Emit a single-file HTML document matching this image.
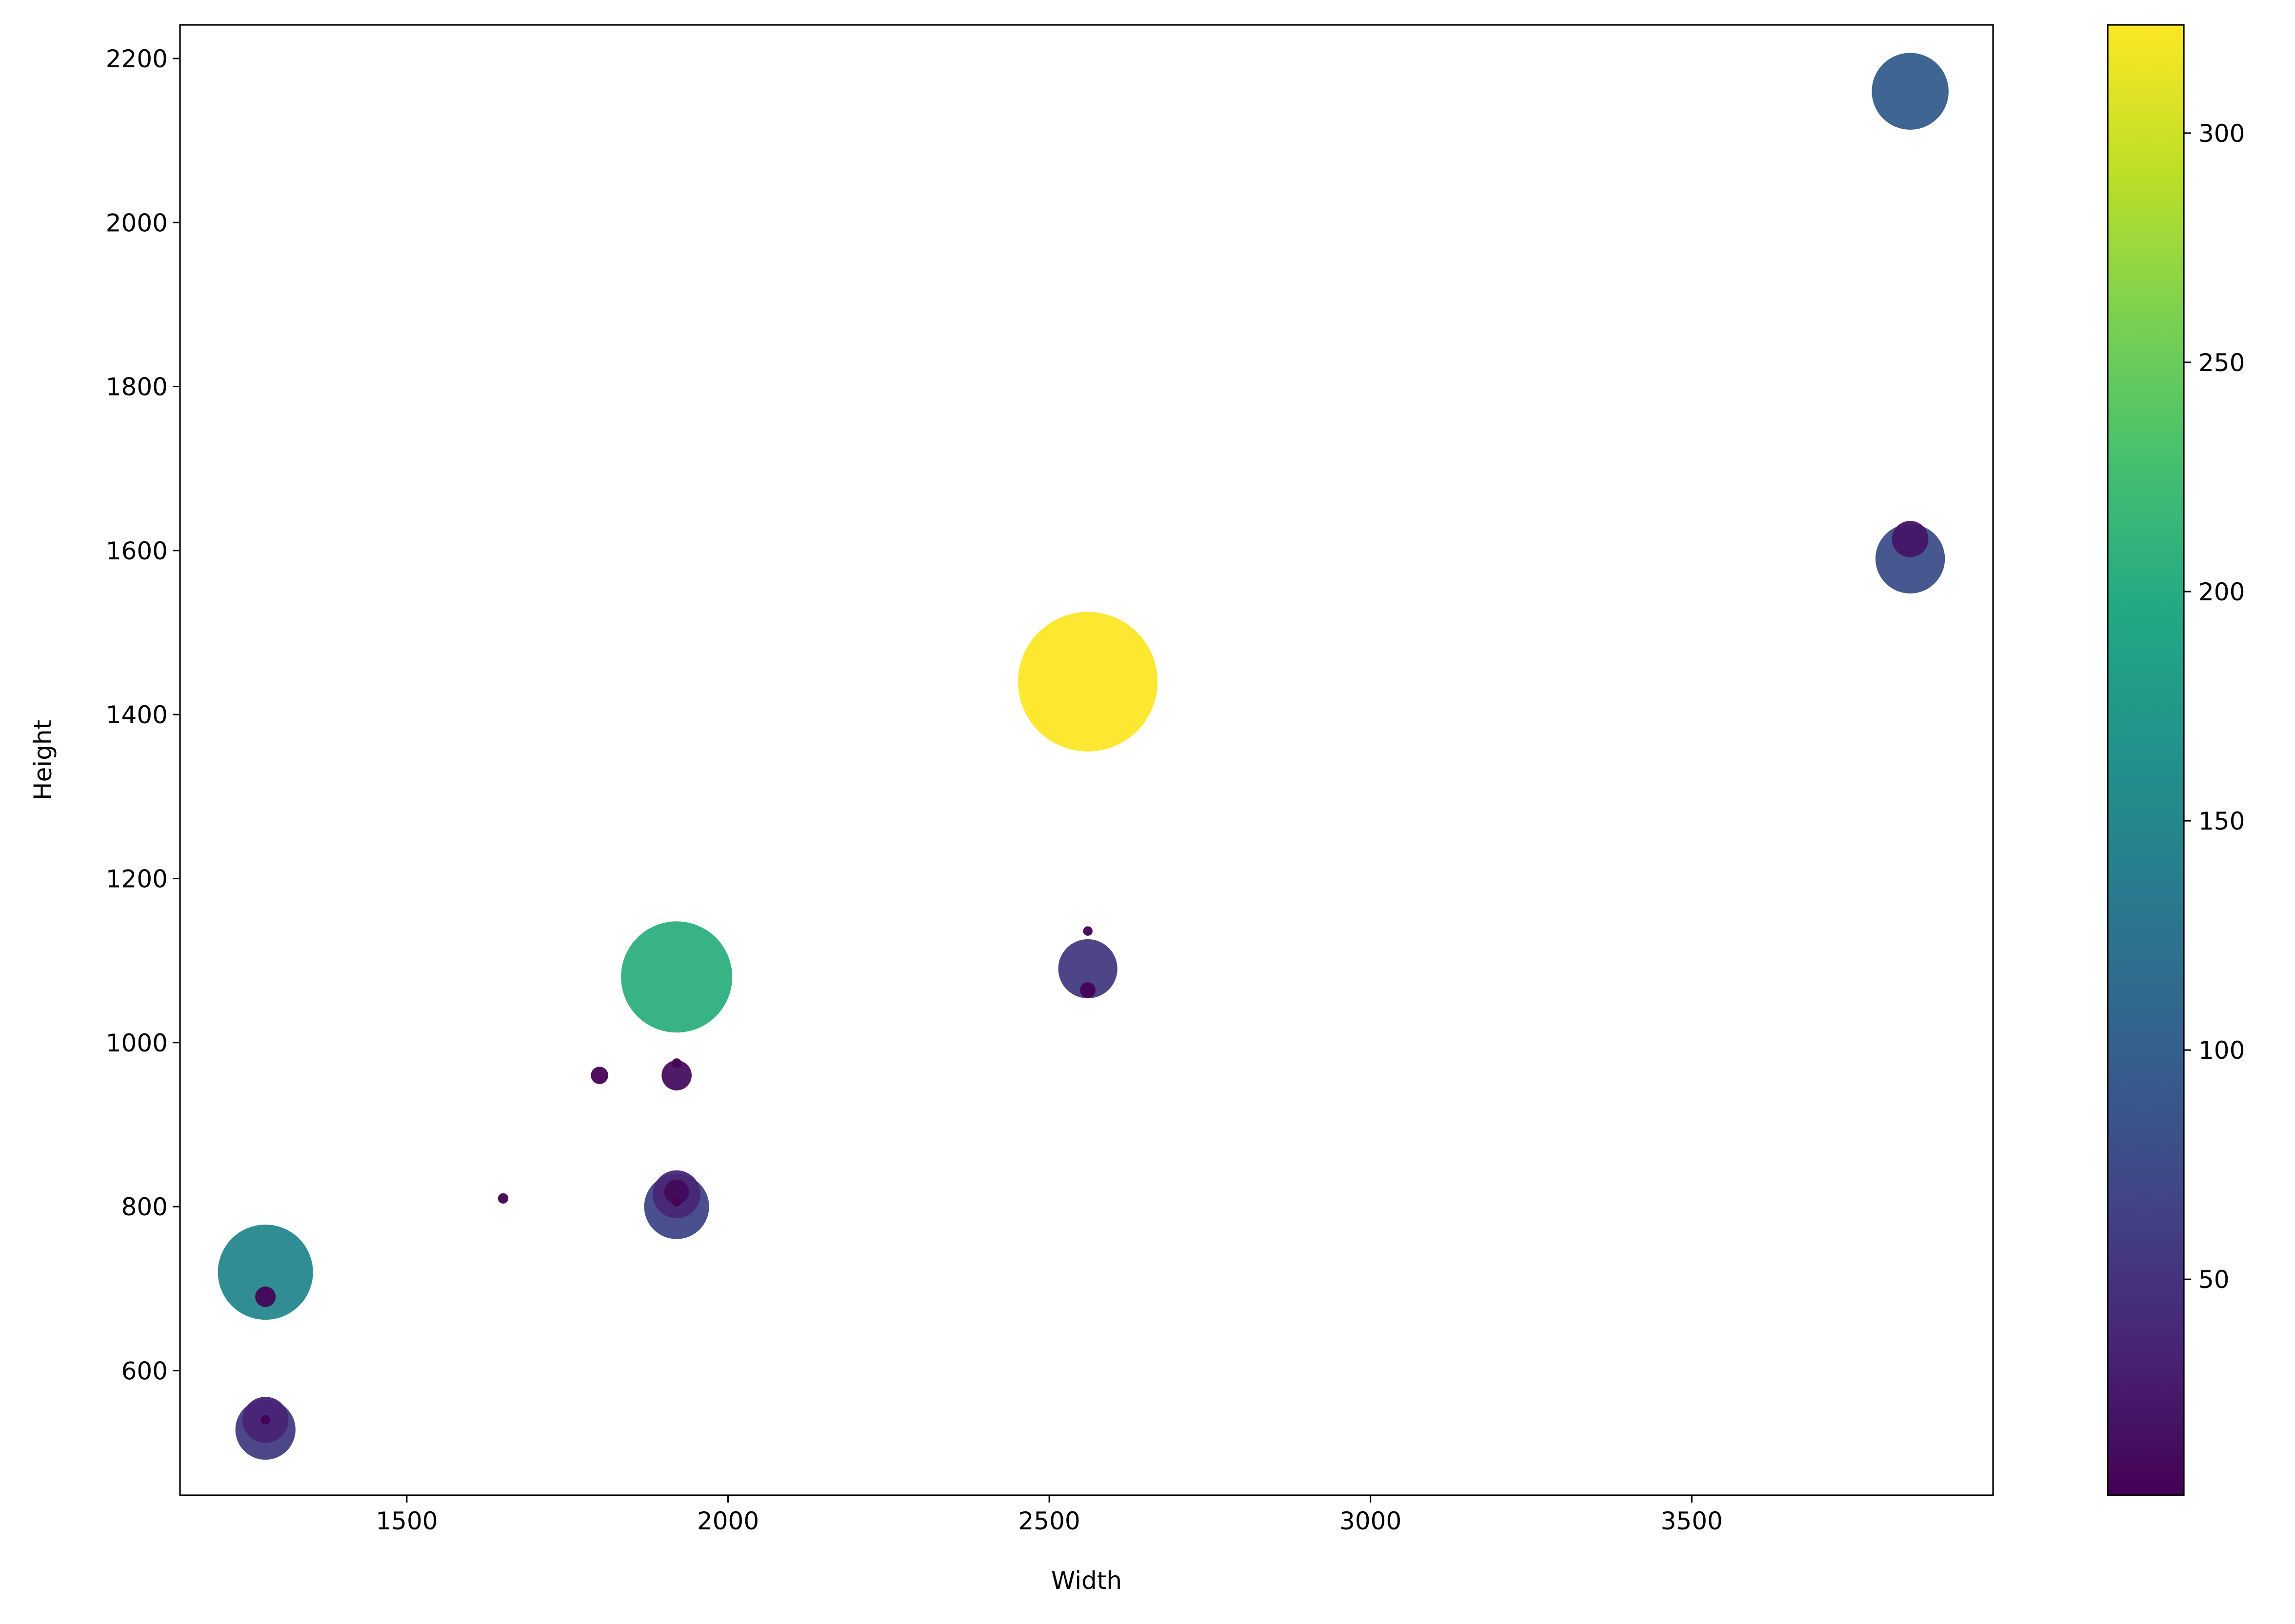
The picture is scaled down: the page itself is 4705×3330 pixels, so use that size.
<!DOCTYPE html>
<html><head><meta charset="utf-8"><style>html,body{margin:0;padding:0;background:#fff}svg{display:block}text{font-family:"DejaVu Sans","Liberation Sans",sans-serif;fill:#000}</style></head>
<body>
<svg id="chart" width="4705" height="3330" viewBox="0 0 4705 3330" xmlns="http://www.w3.org/2000/svg">
<defs><linearGradient id="vir" x1="0" y1="1" x2="0" y2="0"></linearGradient></defs>
<g id="marks"></g>
<g id="axes"></g>
<g id="cbar"></g>
</svg>
<script>
const widths = [3840,3840,3840,2560,2560,2560,2560,1920,1920,1920,1800,1650,1920,1920,1920,1920,1280,1280,1280,1280,1280];
const heights = [2160,1590,1614,1440,1090,1136,1064,1080,960,975,960,810,800,815,818,806,720,690,528,540,540];
const values = [98,80,22,323,58,1.5,4,205,15,1.5,5,1.8,70,38,10,1.5,150,7,60,35,1.5];
const xTicks = [1500,2000,2500,3000,3500];
const yTicks = [600,800,1000,1200,1400,1600,1800,2000,2200];
const cTicks = [50,100,150,200,250,300];

const L=369,R=4086,T=51,B=3066;
const xMin=1147,xMax=3969,yMin=448,yMax=2241,cMin=2.9,cMax=323.6;
const NS='http://www.w3.org/2000/svg';
function sx(v){return L+(v-xMin)/(xMax-xMin)*(R-L);}
function sy(v){return B-(v-yMin)/(yMax-yMin)*(B-T);}
const vir=[[0,68,1,84],[0.1,72,36,117],[0.2,65,68,135],[0.3,53,95,141],[0.4,42,120,142],[0.5,33,145,140],[0.6,34,168,132],[0.7,68,191,112],[0.8,122,209,81],[0.9,189,223,38],[1,253,231,37]];
function cmap(t){t=Math.max(0,Math.min(1,t));for(let i=1;i<vir.length;i++){if(t<=vir[i][0]){const a=vir[i-1],b=vir[i],f=(t-a[0])/(b[0]-a[0]);return 'rgb('+[1,2,3].map(k=>Math.round(a[k]+f*(b[k]-a[k]))).join(',')+')';}}return 'rgb(253,231,37)';}
function el(tag,attrs,parent){const e=document.createElementNS(NS,tag);for(const k in attrs)e.setAttribute(k,attrs[k]);parent.appendChild(e);return e;}

const marks=document.getElementById('marks');
for(let i=0;i<values.length;i++){
  const c=el('circle',{cx:sx(widths[i]),cy:sy(heights[i]),r:7.96*Math.sqrt(values[i]),fill:cmap((values[i]-cMin)/(cMax-cMin)),'fill-opacity':0.95},marks);
  
  
}
const axes=document.getElementById('axes');
const frame=el('rect',{x:L,y:T,width:R-L,height:B-T,fill:'none',stroke:'#000','stroke-width':3.2},axes);


xTicks.forEach(v=>{
  const x=sx(v);
  el('line',{x1:x,y1:B,x2:x,y2:B+15,stroke:'#000','stroke-width':3},axes);
  const t=el('text',{x:x,y:B+70,'font-size':50,'text-anchor':'middle'},axes);t.textContent=v;
  
  
});
yTicks.forEach(v=>{
  const y=sy(v);
  el('line',{x1:L-15,y1:y,x2:L,y2:y,stroke:'#000','stroke-width':3},axes);
  const t=el('text',{x:L-25,y:y+18,'font-size':50,'text-anchor':'end'},axes);t.textContent=v;
  
  
});
const xl=el('text',{x:(L+R)/2,y:3258,'font-size':50,'text-anchor':'middle'},axes);xl.textContent='Width';


const yl=el('text',{x:105,y:(T+B)/2,'font-size':50,'text-anchor':'middle',transform:'rotate(-90 105 '+((T+B)/2)+')'},axes);yl.textContent='Height';



const grad=document.getElementById('vir');
vir.forEach(s=>el('stop',{offset:s[0],'stop-color':'rgb('+s[1]+','+s[2]+','+s[3]+')'},grad));
const cb=document.getElementById('cbar');
const CL=4321,CR=4477;
function cy(v){return B-(v-cMin)/(cMax-cMin)*(B-T);}
const cr=el('rect',{x:CL,y:T,width:CR-CL,height:B-T,fill:'url(#vir)',stroke:'#000','stroke-width':3.2},cb);


cTicks.forEach(v=>{
  const y=cy(v);
  el('line',{x1:CR,y1:y,x2:CR+15,y2:y,stroke:'#000','stroke-width':3},cb);
  const t=el('text',{x:CR+30,y:y+18,'font-size':50},cb);t.textContent=v;
  
  
});
</script>
</body></html>
